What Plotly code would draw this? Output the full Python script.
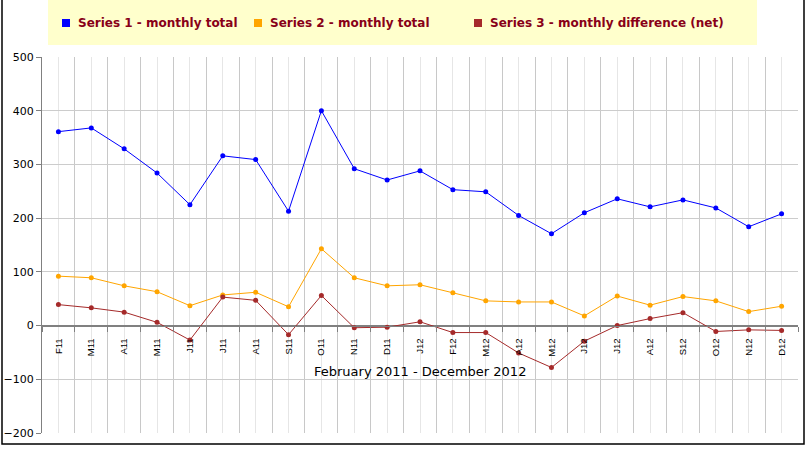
import plotly.graph_objects as go

months = ["F11", "M11", "A11", "M11", "J11", "J11", "A11", "S11", "O11", "N11", "D11",
          "J12", "F12", "M12", "A12", "M12", "J12", "J12", "A12", "S12", "O12", "N12", "D12"]
series_blue = [361, 368, 329, 284, 225, 316, 309, 213, 400, 292, 271, 288, 253, 249, 205,
               171, 210, 236, 221, 234, 219, 184, 208]
series_orange = [92, 89, 74, 63, 37, 57, 62, 35, 143, 89, 74, 76, 61, 46, 44, 44, 18, 55,
                 38, 54, 46, 26, 36]
series_red = [39, 33, 25, 6, -27, 53, 47, -17, 56, -4, -3, 7, -13, -13, -51, -78, -29, 0,
              13, 24, -11, -8, -9]
names = ["Series 1 - monthly total", "Series 2 - monthly total", "Series 3 - monthly difference (net)"]
colors = ["#0000FF", "#FFA500", "#A52A2A"]
x_title = "February 2011 - December 2012"

W, H = 809, 459
L, R, T, B = 42, 11, 57, 26
pw, ph = W - L - R, H - T - B

def px(x):
    return (x - L) / pw

def py(y):
    return (H - B - y) / ph

xs = list(range(len(months)))
fig = go.Figure()
for vals, name, col in zip([series_blue, series_orange, series_red], names, colors):
    fig.add_trace(go.Scatter(x=xs, y=vals, mode="lines+markers", name=name,
                             line=dict(color=col, width=1),
                             marker=dict(color=col, size=5), showlegend=False))

zero_pos = (0 - (-200)) / 700

fig.update_layout(
    width=W, height=H,
    margin=dict(l=L, r=R, t=T, b=B, pad=0, autoexpand=False),
    paper_bgcolor="white", plot_bgcolor="white",
    font=dict(family="DejaVu Sans", color="black"),
    xaxis=dict(range=[-0.5, len(months) - 0.5], tickmode="array", tickvals=xs,
               ticktext=months, tickangle=-90, ticks="", showgrid=True,
               gridcolor="#E6E6E6", gridwidth=1, zeroline=False,
               showline=True, linecolor="#808080", linewidth=1,
               anchor="free", position=zero_pos, automargin=False,
               ticklabelstandoff=8,
               tickfont=dict(family="Liberation Sans", size=9.5, color="black"),
               minor=dict(tickmode="array", tickvals=[i + 0.5 for i in range(-1, len(months))],
                          showgrid=True, gridcolor="#C8C8C8", gridwidth=1,
                          ticks="outside", ticklen=5, tickcolor="#808080")),
    yaxis=dict(range=[-200, 500], dtick=100, showgrid=True, gridcolor="#CCCCCC",
               zeroline=True, zerolinecolor="#808080", zerolinewidth=1,
               showline=True, linecolor="#808080", linewidth=1, automargin=False,
               ticks="outside", ticklen=5, tickcolor="#808080",
               tickfont=dict(family="DejaVu Sans", size=11, color="black")),
)

shapes = []
# outer border
shapes.append(dict(type="rect", xref="paper", yref="paper", x0=px(2), x1=px(804),
                   y0=py(444), y1=py(-5), line=dict(color="black", width=1.5),
                   fillcolor="rgba(0,0,0,0)", layer="above"))
# legend box
shapes.append(dict(type="rect", xref="paper", yref="paper", x0=px(48), x1=px(757),
                   y0=py(45), y1=py(0), line=dict(width=0), fillcolor="#FFFFCC"))
sq = [66, 258, 478]
for cx, col in zip(sq, colors):
    shapes.append(dict(type="rect", xref="paper", yref="paper", x0=px(cx - 4), x1=px(cx + 4),
                       y0=py(27), y1=py(19), line=dict(width=0), fillcolor=col))
fig.update_layout(shapes=shapes)

annotations = [dict(text=x_title, xref="paper", yref="paper", x=0.5, y=py(371),
                    showarrow=False, font=dict(size=13, family="DejaVu Sans", color="black"),
                    xanchor="center", yanchor="middle")]
for cx, name in zip(sq, names):
    annotations.append(dict(text="<b>" + name + "</b>", xref="paper", yref="paper",
                            x=px(cx + 10), y=py(23), xanchor="left", yanchor="middle",
                            showarrow=False,
                            font=dict(size=12, family="DejaVu Sans", color="#880018")))
fig.update_layout(annotations=annotations)

fig.write_html("out.html", config={"displayModeBar": False},
               post_script="document.body.style.margin='0';document.body.style.overflow='hidden';")
